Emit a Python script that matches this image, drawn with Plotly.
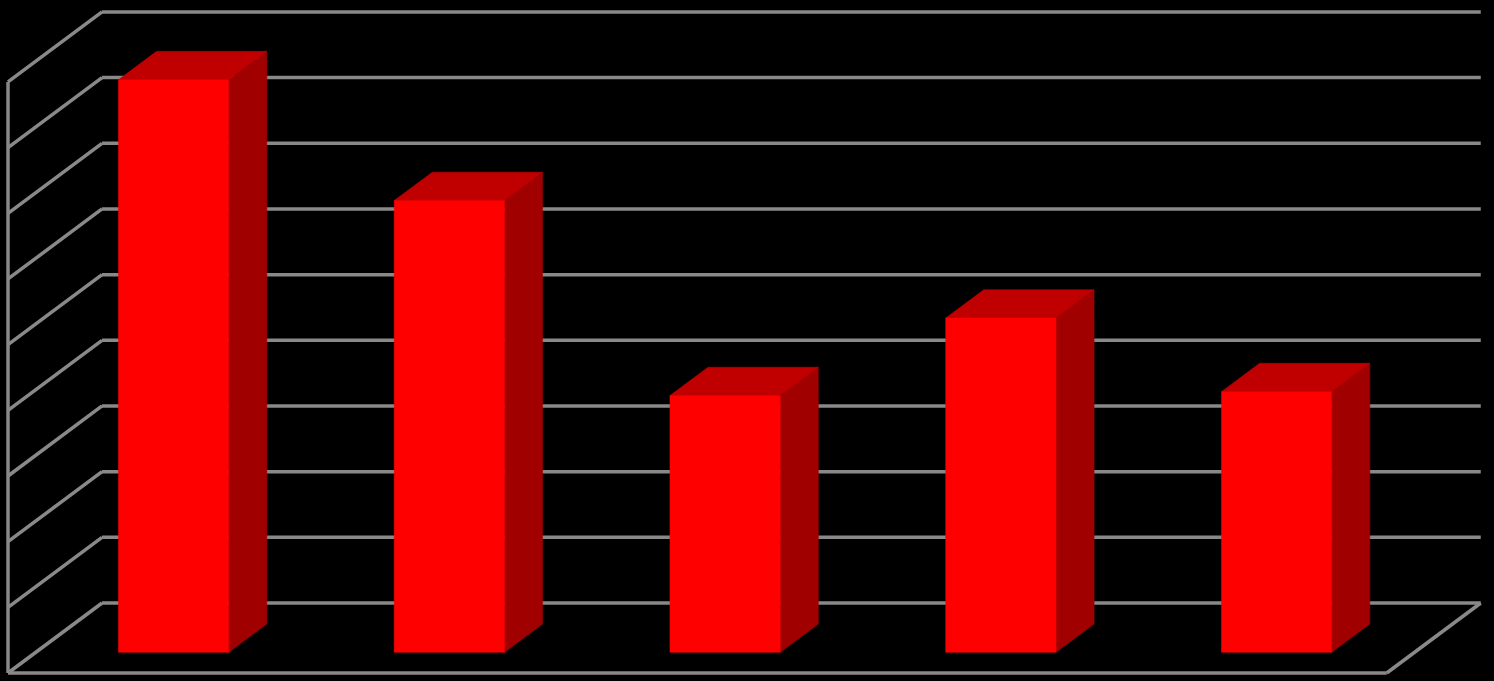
"""3D-style column chart on a black background, drawn with Plotly scatter polygons."""

import plotly.graph_objects as go

categories = ["1", "2", "3", "4", "5"]
values = [8.72, 6.88, 3.91, 5.09, 3.97]
grid_values = [0, 1, 2, 3, 4, 5, 6, 7, 8, 9]

FRONT_COLOR = "#FF0000"
TOP_COLOR = "#C00000"
SIDE_COLOR = "#A00000"
GRID_COLOR = "#898989"

# oblique projection: full floor depth shifts right by DEPTH_X categories, up by DEPTH_Y units
DEPTH_X = 0.341
DEPTH_Y = 1.066
BAR_WIDTH = 0.4
BAR_FRONT = 0.295
BAR_BACK = 0.70


def _project(x, v, d):
    return x + d * DEPTH_X, v + d * DEPTH_Y


def _polygon(points):
    xs, ys = [], []
    for x, v, d in points:
        px, py = _project(x, v, d)
        xs.append(px)
        ys.append(py)
    xs.append(xs[0])
    ys.append(ys[0])
    return xs, ys


def _face(points, color):
    xs, ys = _polygon(points)
    return go.Scatter(
        x=xs,
        y=ys,
        mode="lines",
        fill="toself",
        fillcolor=color,
        line={"width": 0.5, "color": color},
        hoverinfo="skip",
        showlegend=False,
    )


def _grid_trace():
    left = -0.5
    right = len(categories) - 0.5
    top = grid_values[-1]
    segments = []
    for v in grid_values:
        segments.append([(left, v, 1.0), (right, v, 1.0)])  # back wall
        segments.append([(left, v, 0.0), (left, v, 1.0)])  # side wall
    segments.append([(left, 0, 0.0), (left, top, 0.0)])
    segments.append([(left, 0, 0.0), (right, 0, 0.0)])
    segments.append([(right, 0, 0.0), (right, 0, 1.0)])

    xs, ys = [], []
    for segment in segments:
        for x, v, d in segment:
            px, py = _project(x, v, d)
            xs.append(px)
            ys.append(py)
        xs.append(None)
        ys.append(None)
    return go.Scatter(
        x=xs,
        y=ys,
        mode="lines",
        line={"width": 3.5, "color": GRID_COLOR},
        hoverinfo="skip",
        showlegend=False,
    )


fig = go.Figure()
fig.add_trace(_grid_trace())

half = BAR_WIDTH / 2
for index, value in enumerate(values):
    x0 = index - half
    x1 = index + half
    fig.add_trace(
        _face(
            [(x1, 0, BAR_FRONT), (x1, 0, BAR_BACK), (x1, value, BAR_BACK), (x1, value, BAR_FRONT)],
            SIDE_COLOR,
        )
    )
    fig.add_trace(
        _face(
            [(x0, value, BAR_FRONT), (x1, value, BAR_FRONT), (x1, value, BAR_BACK), (x0, value, BAR_BACK)],
            TOP_COLOR,
        )
    )
    fig.add_trace(
        _face(
            [(x0, 0, BAR_FRONT), (x1, 0, BAR_FRONT), (x1, value, BAR_FRONT), (x0, value, BAR_FRONT)],
            FRONT_COLOR,
        )
    )

fig.update_layout(
    width=1494,
    height=681,
    margin={"l": 0, "r": 0, "t": 0, "b": 0},
    paper_bgcolor="#000000",
    plot_bgcolor="#000000",
    showlegend=False,
)
fig.update_xaxes(range=[-0.529, 4.889], visible=False, fixedrange=True)
fig.update_yaxes(range=[-0.122, 10.248], visible=False, fixedrange=True)

# drop the browser's default body margin so the figure fills the window
fig.write_html(
    "out.html",
    config={"displayModeBar": False},
    post_script="document.body.style.margin = '0';",
)
